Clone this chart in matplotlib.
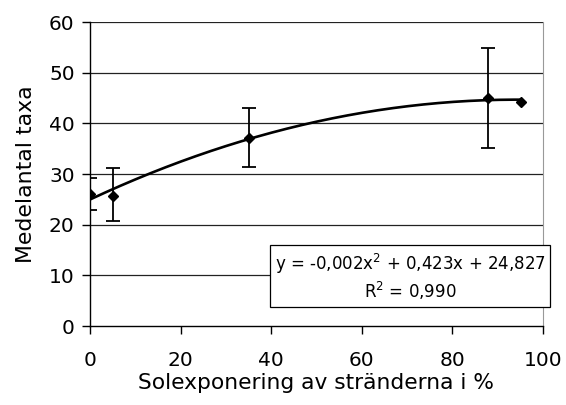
import numpy as np
import matplotlib
matplotlib.use("Agg")
import matplotlib.pyplot as plt

# Mean number of taxa versus sun exposure of the shores
exposure = [0.0, 5.1, 35.2, 87.9, 95.1]
mean_taxa = [26.1, 25.7, 37.1, 45.0, 44.3]
err_low = [3.3, 4.9, 5.7, 9.9, 0.0]
err_high = [3.2, 5.5, 6.0, 9.9, 0.0]

x_ticks = [0, 20, 40, 60, 80, 100]
y_ticks = [0, 10, 20, 30, 40, 50, 60]
trend_label = "y = -0,002x$^2$ + 0,423x + 24,827\nR$^2$ = 0,990"

FONT = "DejaVu Sans"

fig = plt.figure(figsize=(5.66, 4.05), dpi=100)
ax = fig.add_axes([90 / 566, 1 - 326 / 405, 453 / 566, 304 / 405])

ax.set_xlim(0, 100)
ax.set_ylim(0, 60)

for y in y_ticks[1:]:
    ax.axhline(y, color="#222222", lw=0.9, zorder=1)

# Second-order polynomial trend line through the means
coef = np.polyfit(exposure, mean_taxa, 2)
xs = np.linspace(min(exposure), max(exposure), 200)
ax.plot(xs, np.polyval(coef, xs), color="black", lw=1.9, zorder=3, solid_capstyle="butt")

has_err = [i for i in range(len(exposure)) if err_low[i] > 0 or err_high[i] > 0]
ax.errorbar([exposure[i] for i in has_err], [mean_taxa[i] for i in has_err],
            yerr=[[err_low[i] for i in has_err], [err_high[i] for i in has_err]],
            fmt="none", ecolor="black", elinewidth=1.3, capsize=4.8, capthick=1.3, zorder=4)
ax.plot(exposure, mean_taxa, linestyle="none", marker="D", markersize=4.8,
        color="black", zorder=5)

ax.spines["top"].set_visible(False)
ax.spines["right"].set_color("#999999")
ax.spines["right"].set_linewidth(0.8)
ax.spines["left"].set_linewidth(1.0)
ax.spines["bottom"].set_linewidth(1.0)

ax.set_xticks(x_ticks)
ax.set_yticks(y_ticks)
ax.tick_params(axis="both", direction="out", length=6, width=1.0, labelsize=14.5,
               color="black")
ax.tick_params(axis="x", pad=12)
ax.tick_params(axis="y", pad=5)
for lab in ax.get_xticklabels() + ax.get_yticklabels():
    lab.set_fontfamily(FONT)

ax.set_xlabel("Solexponering av stränderna i %", fontsize=15.7,
              fontfamily=FONT, labelpad=2)
ax.set_ylabel("Medelantal taxa", fontsize=15.8, fontfamily=FONT, labelpad=9)

fig.text(410 / 566, 1 - 277 / 405, trend_label, ha="center", va="center",
         fontsize=12.0, fontfamily=FONT, linespacing=1.25,
         bbox=dict(boxstyle="square,pad=0.3", facecolor="white",
                   edgecolor="black", linewidth=0.9), zorder=6)

fig.savefig("out.png", dpi=100, facecolor="white")
